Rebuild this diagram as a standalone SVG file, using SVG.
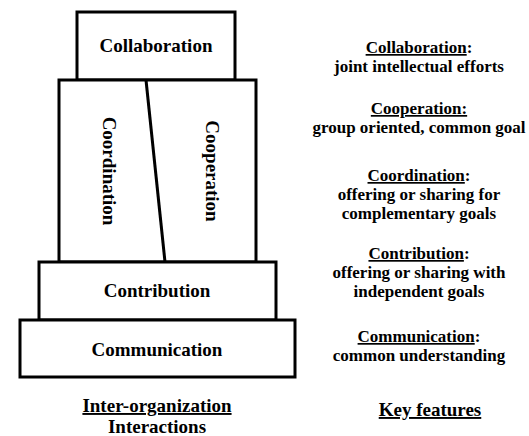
<svg xmlns="http://www.w3.org/2000/svg" width="529" height="436" viewBox="0 0 529 436">
  <style>
    .box { fill: #ffffff; stroke: #000000; stroke-width: 3; }
    .div { fill: none; stroke: #000000; stroke-width: 3; }
    text { font-family: "Liberation Serif", "DejaVu Serif", serif; font-weight: bold; fill: #000000; text-anchor: middle; }
    .lbl { font-size: 19px; }
    .key { font-size: 17px; }
    .u { text-decoration: underline; }
  </style>
  <rect width="529" height="436" fill="#ffffff"/>

  <!-- stacked layers, top to bottom -->
  <g id="collaboration">
    <rect class="box" x="77" y="12" width="158" height="68"/>
    <text class="lbl" x="156" y="52">Collaboration</text>
  </g>

  <g id="coordination-cooperation">
    <rect class="box" x="59" y="80" width="197" height="182"/>
    <line class="div" x1="146" y1="80" x2="165" y2="262"/>
    <text class="lbl" transform="translate(103,171) rotate(90)">Coordination</text>
    <text class="lbl" transform="translate(206,171) rotate(90)">Cooperation</text>
  </g>

  <g id="contribution">
    <rect class="box" x="39" y="262" width="237" height="58"/>
    <text class="lbl" x="157" y="297">Contribution</text>
  </g>

  <g id="communication">
    <rect class="box" x="20" y="320" width="275" height="57"/>
    <text class="lbl" x="157" y="356">Communication</text>
  </g>

  <g id="interactions-title">
    <text class="lbl" x="157" y="412"><tspan class="u">Inter-organization</tspan></text>
    <text class="lbl" x="157" y="433">Interactions</text>
  </g>

  <!-- key features column -->
  <g id="key-collaboration">
    <text class="key" x="419" y="53"><tspan class="u">Collaboration</tspan>:</text>
    <text class="key" x="419" y="72">joint intellectual efforts</text>
  </g>
  <g id="key-cooperation">
    <text class="key" x="419" y="114"><tspan class="u">Cooperation:</tspan></text>
    <text class="key" x="419" y="133">group oriented, common goal</text>
  </g>
  <g id="key-coordination">
    <text class="key" x="419" y="181"><tspan class="u">Coordination</tspan>:</text>
    <text class="key" x="419" y="200">offering or sharing for</text>
    <text class="key" x="419" y="219">complementary goals</text>
  </g>
  <g id="key-contribution">
    <text class="key" x="419" y="259"><tspan class="u">Contribution</tspan>:</text>
    <text class="key" x="419" y="278">offering or sharing with</text>
    <text class="key" x="419" y="297">independent goals</text>
  </g>
  <g id="key-communication">
    <text class="key" x="419" y="342"><tspan class="u">Communication</tspan>:</text>
    <text class="key" x="419" y="361">common understanding</text>
  </g>
  <g id="key-title">
    <text class="lbl" x="430" y="416"><tspan class="u">Key features</tspan></text>
  </g>
</svg>
